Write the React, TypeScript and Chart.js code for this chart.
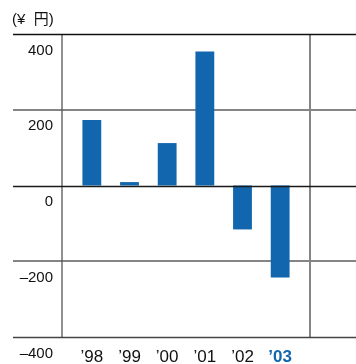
import React, { useEffect, useRef } from "react";
import { Chart, registerables } from "chart.js";

Chart.register(...registerables);

const categories = ["’98", "’99", "’00", "’01", "’02", "’03"];
const values = [173, 9, 112, 354, -116, -243];
const yTicks = [400, 200, 0, -200, -400];
const yTickLabels = ["400", "200", "0", "–200", "–400"];
const unitLabel = "(¥  円)";

const BLUE = "#1166ad";
const FONT = "'Liberation Sans Narrow', 'Liberation Sans', 'Noto Sans CJK JP', sans-serif";

const lineStyle: Record<number, { color: string; width: number; front: boolean }> = {
  400: { color: "#111", width: 1.3, front: true },
  200: { color: "#858585", width: 2, front: false },
  0: { color: "#1a1a1a", width: 1.3, front: true },
  [-200]: { color: "#858585", width: 2, front: false },
  [-400]: { color: "#444", width: 1.5, front: true },
};

const framePlugin = {
  id: "frame",
  beforeDatasetsDraw(chart: any) {
    const { ctx, scales } = chart;
    const y = scales.y;
    const top = y.getPixelForValue(400);
    const bottom = y.getPixelForValue(-400);
    ctx.save();
    yTicks.forEach((v) => {
      const s = lineStyle[v];
      if (s.front) return;
      const py = Math.round(y.getPixelForValue(v));
      ctx.strokeStyle = s.color;
      ctx.lineWidth = s.width;
      ctx.beginPath();
      ctx.moveTo(13, py);
      ctx.lineTo(chart.width, py);
      ctx.stroke();
    });
    // vertical lines
    ctx.strokeStyle = "#555";
    ctx.lineWidth = 1.3;
    ctx.beginPath();
    ctx.moveTo(62, top);
    ctx.lineTo(62, bottom);
    ctx.stroke();
    ctx.strokeStyle = "#858585";
    ctx.lineWidth = 2;
    ctx.beginPath();
    ctx.moveTo(310, top);
    ctx.lineTo(310, bottom);
    ctx.stroke();
    ctx.restore();
  },
  afterDatasetsDraw(chart: any) {
    const { ctx, scales } = chart;
    const y = scales.y;
    const x = scales.x;
    ctx.save();
    yTicks.forEach((v) => {
      const s = lineStyle[v];
      if (!s.front) return;
      const py = Math.round(y.getPixelForValue(v)) + 0.5;
      ctx.strokeStyle = s.color;
      ctx.lineWidth = s.width;
      ctx.beginPath();
      ctx.moveTo(13, py);
      ctx.lineTo(chart.width, py);
      ctx.stroke();
    });
    // y labels
    ctx.fillStyle = "#111";
    ctx.font = `15px ${FONT}`;
    ctx.textAlign = "right";
    ctx.textBaseline = "alphabetic";
    yTicks.forEach((v, i) => {
      const py = y.getPixelForValue(v);
      ctx.fillText(yTickLabels[i], 53, py + 20.5);
    });
    // unit label
    ctx.textAlign = "left";
    ctx.fillText(unitLabel, 12, 24);
    // x labels
    ctx.textAlign = "center";
    categories.forEach((c, i) => {
      const px = x.getPixelForValue(i);
      const last = i === categories.length - 1;
      ctx.font = `${last ? "bold " : ""}17px ${FONT}`;
      ctx.fillStyle = last ? BLUE : "#111";
      ctx.fillText(c, px, 362);
    });
    ctx.restore();
  },
};

export default function App() {
  const ref = useRef<HTMLCanvasElement | null>(null);
  useEffect(() => {
    if (!ref.current) return;
    const chart = new Chart(ref.current, {
      type: "bar",
      data: {
        labels: categories,
        datasets: [
          {
            data: values,
            backgroundColor: BLUE,
            borderWidth: 0,
            barPercentage: 0.5,
            categoryPercentage: 1,
          },
        ],
      },
      options: {
        animation: false,
        responsive: true,
        maintainAspectRatio: false,
        layout: { padding: { left: 73, right: 57, top: 34, bottom: 27 } },
        plugins: { legend: { display: false }, tooltip: { enabled: false } },
        scales: {
          x: { type: "category", display: false, offset: true },
          y: { display: false, min: -400, max: 400 },
        },
      },
      plugins: [framePlugin],
    });
    return () => chart.destroy();
  }, []);
  return (
    <div style={{ position: "fixed", left: 0, top: 0, width: 356, height: 364, background: "#fff" }}>
      <canvas ref={ref} />
    </div>
  );
}
